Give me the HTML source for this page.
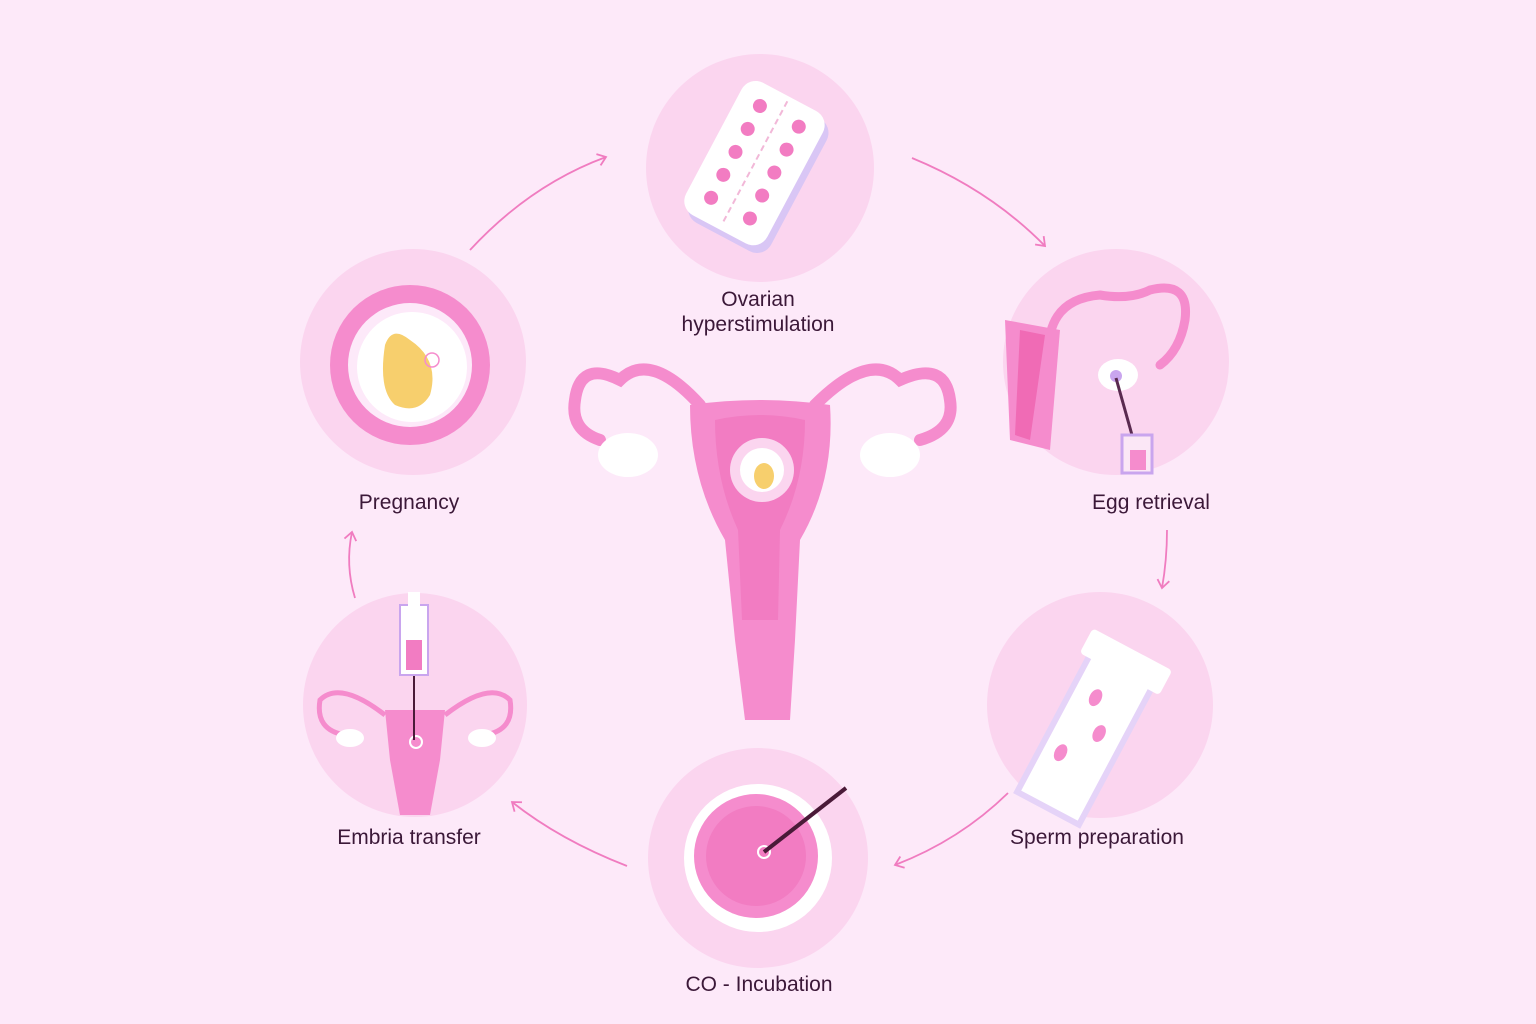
<!DOCTYPE html>
<html><head><meta charset="utf-8"><style>
html,body{margin:0;padding:0;background:#fde9f9;}
svg{display:block}
text{font-family:"Liberation Sans",sans-serif;font-size:21px;fill:#3b1838;text-anchor:middle}
</style></head><body>
<svg width="1536" height="1024" viewBox="0 0 1536 1024" xmlns="http://www.w3.org/2000/svg">
<defs>
<marker id="ah" markerWidth="14" markerHeight="14" refX="10" refY="7" orient="auto" markerUnits="userSpaceOnUse">
<path d="M2,1 L10,7 L2,13" fill="none" stroke="#f07cc0" stroke-width="1.8"/>
</marker>
</defs>
<rect width="1536" height="1024" fill="#fde9f9"/>
<!-- circles -->
<g fill="#fbd5ef">
<circle cx="760" cy="168" r="114"/>
<circle cx="1116" cy="362" r="113"/>
<circle cx="413" cy="362" r="113"/>
<circle cx="1100" cy="705" r="113"/>
<circle cx="758" cy="858" r="110"/>
<circle cx="415" cy="705" r="112"/>
</g>
<!-- arrows -->
<g fill="none" stroke="#f07cc0" stroke-width="1.8" marker-end="url(#ah)">
<path d="M470,250 Q530,185 606,157"/>
<path d="M912,158 Q990,190 1045,246"/>
<path d="M1167,530 Q1167,560 1162,588"/>
<path d="M1008,793 Q960,840 895,865"/>
<path d="M627,866 Q560,840 512,802"/>
<path d="M355,598 Q345,565 352,532"/>
</g>
<!-- pill pack -->
<g transform="rotate(28 758 165)">
<rect x="715" y="95" width="92" height="150" rx="16" fill="#d9c6f5"/>
<rect x="708" y="90" width="92" height="150" rx="16" fill="#fff"/>
<line x1="754" y1="95" x2="754" y2="235" stroke="#f2b8d8" stroke-width="2" stroke-dasharray="6 4"/>
<g fill="#f27cc2">
<circle cx="732" cy="112" r="7"/><circle cx="776" cy="112" r="7"/>
<circle cx="732" cy="138" r="7"/><circle cx="776" cy="138" r="7"/>
<circle cx="732" cy="164" r="7"/><circle cx="776" cy="164" r="7"/>
<circle cx="732" cy="190" r="7"/><circle cx="776" cy="190" r="7"/>
<circle cx="732" cy="216" r="7"/><circle cx="776" cy="216" r="7"/>
</g></g>
<!-- pregnancy -->
<circle cx="410" cy="365" r="80" fill="#f58ccd"/>
<circle cx="410" cy="365" r="62" fill="#fde9f9"/>
<circle cx="412" cy="367" r="55" fill="#fff"/>
<path d="M385,345 Q392,325 410,340 Q440,360 430,395 Q418,415 395,405 Q378,390 385,345Z" fill="#f7cf6d"/>
<circle cx="432" cy="360" r="7" fill="none" stroke="#f58ccd" stroke-width="1.5"/>
<!-- egg retrieval -->
<g fill="none" stroke="#f58ccd" stroke-width="9" stroke-linecap="round">
<path d="M1050,370 Q1040,300 1100,295 Q1130,300 1150,290 Q1190,280 1185,320 Q1180,350 1160,365"/>
</g>
<path d="M1005,320 L1060,330 L1050,450 L1010,440Z" fill="#f58ccd"/>
<path d="M1020,330 L1045,335 L1030,440 L1015,435Z" fill="#f06bb5"/>
<ellipse cx="1118" cy="375" rx="20" ry="16" fill="#fff"/>
<circle cx="1116" cy="376" r="6" fill="#c9a5ee"/>
<line x1="1116" y1="378" x2="1132" y2="435" stroke="#5a2a50" stroke-width="3"/>
<rect x="1122" y="435" width="30" height="38" fill="#fbe7f6" stroke="#c9a5ee" stroke-width="3"/>
<rect x="1130" y="450" width="16" height="20" fill="#f58ccd"/>
<!-- sperm tube -->
<g transform="rotate(28 1095 720)">
<rect x="1060" y="660" width="70" height="160" fill="#fff" stroke="#e5d3f8" stroke-width="6"/>
<rect x="1050" y="640" width="90" height="28" rx="4" fill="#fff"/>
<g fill="#f58ccd"><ellipse cx="1085" cy="700" rx="6" ry="9"/><ellipse cx="1105" cy="730" rx="6" ry="9"/><ellipse cx="1080" cy="765" rx="6" ry="9"/></g>
</g>
<!-- incubation -->
<circle cx="758" cy="858" r="74" fill="#fff"/>
<circle cx="756" cy="856" r="62" fill="#f58ccd"/>
<circle cx="756" cy="856" r="50" fill="#f27cc2"/>
<circle cx="764" cy="852" r="6" fill="none" stroke="#fff" stroke-width="2"/>
<line x1="764" y1="852" x2="846" y2="788" stroke="#4a1a38" stroke-width="4"/>
<!-- embria transfer -->
<path d="M385,710 L445,710 L440,760 L430,815 L400,815 L390,760Z" fill="#f58ccd"/>
<g fill="none" stroke="#f58ccd" stroke-width="5"><path d="M385,715 Q340,680 320,700 Q315,730 345,735"/><path d="M445,715 Q490,680 510,700 Q515,730 485,735"/></g>
<ellipse cx="350" cy="738" rx="14" ry="9" fill="#fff"/><ellipse cx="482" cy="738" rx="14" ry="9" fill="#fff"/>
<circle cx="416" cy="742" r="6" fill="none" stroke="#fff" stroke-width="2"/>
<rect x="400" y="605" width="28" height="70" fill="#fff" stroke="#c9a5ee" stroke-width="2"/>
<rect x="406" y="640" width="16" height="30" fill="#f27cc2"/>
<rect x="408" y="592" width="12" height="14" fill="#fff"/>
<line x1="414" y1="676" x2="414" y2="740" stroke="#4a1a38" stroke-width="2"/>
<!-- central uterus -->
<g fill="none" stroke="#f58ccd" stroke-width="12" stroke-linecap="round">
<path d="M700,405 Q650,350 620,380 Q580,360 575,400 Q570,430 600,440"/>
<path d="M815,405 Q870,350 900,380 Q945,360 950,400 Q955,430 920,440"/>
</g>
<ellipse cx="628" cy="455" rx="30" ry="22" fill="#fff"/>
<ellipse cx="890" cy="455" rx="30" ry="22" fill="#fff"/>
<path d="M690,405 Q760,395 830,405 Q835,480 800,540 L795,640 L790,720 L745,720 L735,640 L725,540 Q690,480 690,405Z" fill="#f58ccd"/>
<path d="M715,420 Q760,410 805,420 Q805,480 780,530 L778,620 L742,620 L738,530 Q715,480 715,420Z" fill="#f27cc2"/>
<circle cx="762" cy="470" r="32" fill="#fbd5ef"/>
<circle cx="762" cy="470" r="22" fill="#fff"/>
<ellipse cx="764" cy="476" rx="10" ry="13" fill="#f7cf6d"/>
<!-- labels -->
<text x="758" y="306">Ovarian</text>
<text x="758" y="331">hyperstimulation</text>
<text x="409" y="509">Pregnancy</text>
<text x="1151" y="509">Egg retrieval</text>
<text x="1097" y="844">Sperm preparation</text>
<text x="409" y="844">Embria transfer</text>
<text x="759" y="991">CO - Incubation</text>
</svg>
</body></html>
